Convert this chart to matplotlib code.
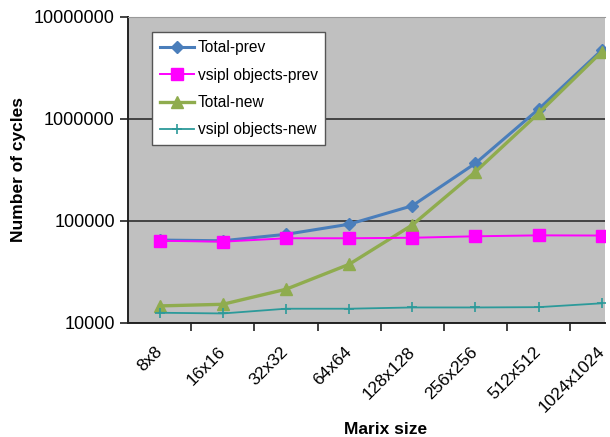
import matplotlib
matplotlib.use("Agg")
import matplotlib.pyplot as plt
from matplotlib.ticker import FixedLocator, NullFormatter
from matplotlib.transforms import ScaledTranslation

plt.rcParams['font.family'] = ['Liberation Sans', 'DejaVu Sans']

sizes = ["8x8", "16x16", "32x32", "64x64", "128x128", "256x256", "512x512", "1024x1024"]
total_prev = [65000, 64000, 74000, 93000, 141000, 368000, 1250000, 4740000]
vsipl_prev = [64000, 62700, 67700, 67700, 68500, 70800, 72300, 72000]
total_new = [14700, 15250, 21400, 37600, 91400, 304000, 1140000, 4570000]
vsipl_new = [12600, 12400, 13800, 13800, 14200, 14200, 14300, 15600]
y_ticks = [10000, 100000, 1000000, 10000000]

fig = plt.figure(figsize=(6.10, 4.37), dpi=100)
ax = fig.add_axes([0.2098, 0.2609, 0.7820, 0.7002])
ax.set_facecolor('#c0c0c0')

x = list(range(len(sizes)))
ax.plot(x, total_prev, color='#4a7ebb', lw=2.2, marker='D', ms=6, mec='#4a7ebb',
        label='Total-prev', zorder=4)
ax.plot(x, vsipl_prev, color='#ff00ff', lw=1.4, marker='s', ms=8, mec='#ff00ff',
        label='vsipl objects-prev', zorder=5)
ax.plot(x, total_new, color='#8fac4e', lw=2.4, marker='^', ms=9, mec='#8fac4e',
        label='Total-new', zorder=4)
ax.plot(x, vsipl_new, color='#2c9a9a', lw=1.3, marker='+', ms=7, mew=1.2,
        label='vsipl objects-new', zorder=4)

ax.set_yscale('log')
ax.set_ylim(10000, 10000000)
ax.set_xlim(-0.5, 7.05)
ax.yaxis.set_major_locator(FixedLocator(y_ticks))
ax.set_yticklabels([str(v) for v in y_ticks], fontsize=13)
ax.yaxis.set_minor_locator(FixedLocator([]))
ax.grid(axis='y', which='major', color='#222222', lw=1.1)
ax.set_axisbelow(True)

ax.set_xticks(x)
ax.set_xticklabels(sizes, rotation=45, ha='right', va='center', rotation_mode='anchor',
                   fontsize=12.5)
shift = ScaledTranslation(-3 / 100, 0, fig.dpi_scale_trans)
for lbl in ax.get_xticklabels():
    lbl.set_transform(lbl.get_transform() + shift)
ax.xaxis.set_minor_locator(FixedLocator([i + 0.5 for i in range(7)]))
ax.xaxis.set_minor_formatter(NullFormatter())
ax.tick_params(axis='x', which='major', length=0, pad=19)
ax.tick_params(axis='x', which='minor', length=6, width=1.2, color='#222222', direction='out')
ax.tick_params(axis='y', which='major', length=6, width=1.2, color='#222222', direction='out')

for s in ('left', 'bottom'):
    ax.spines[s].set_color('#222222')
    ax.spines[s].set_linewidth(1.4)
ax.spines['top'].set_color('#999999')
ax.spines['right'].set_visible(False)

ax.set_ylabel('Number of cycles', fontsize=12.5, fontweight='bold', labelpad=6)
ax.set_xlabel('Marix size', fontsize=12.5, fontweight='bold', va='top')
ax.xaxis.set_label_coords(0.539, -0.3235)

leg = ax.legend(loc='upper left', bbox_to_anchor=(0.05, 0.95), borderaxespad=0,
                fontsize=11.2, frameon=True, fancybox=False, edgecolor='#555555',
                framealpha=1, handlelength=2.2, borderpad=0.5, labelspacing=0.8,
                handletextpad=0.25)
leg.get_frame().set_linewidth(1.0)

fig.savefig('out.png', dpi=100)
